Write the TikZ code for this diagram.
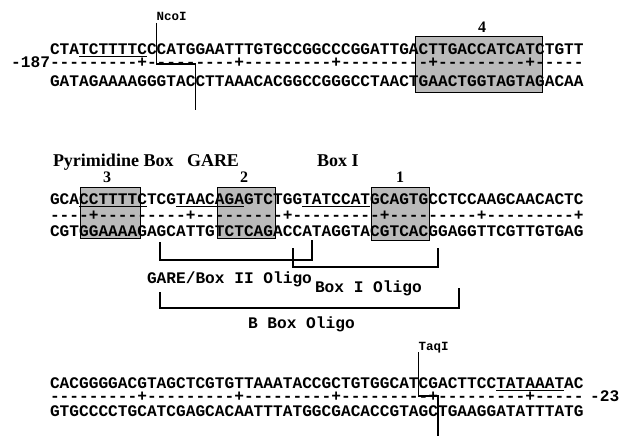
\documentclass[tikz,border=0pt]{standalone}
\usepackage{fontspec}
\setmainfont{Liberation Serif}
\setmonofont{Liberation Mono}
\usetikzlibrary{positioning}
\tikzstyle{seq}   = [inner sep=0pt, outer sep=0pt, anchor=base west,
                     font=\fontsize{16.17}{16}\selectfont\ttfamily\bfseries]
\tikzstyle{site}  = [inner sep=0pt, outer sep=0pt, anchor=base west,
                     font=\fontsize{12.5}{12}\selectfont\ttfamily\bfseries]
\tikzstyle{lbl}   = [inner sep=0pt, outer sep=0pt, anchor=base west,
                     font=\fontsize{18}{18}\selectfont\bfseries]
\tikzstyle{num}   = [inner sep=0pt, outer sep=0pt, anchor=base,
                     font=\fontsize{16}{16}\selectfont\bfseries]
\tikzstyle{motif} = [draw=black, line width=1pt, fill=black!27]
\tikzstyle{cut}   = [line width=1.2pt]
\tikzstyle{brk}   = [line width=1.1pt]
\tikzstyle{ulin}  = [line width=1pt]
\newcommand{\cw}{9.7}  % width of one base
\newcommand{\xo}{50}   % left edge of the strands

\begin{document}
\begin{tikzpicture}[x=1pt, y=-1pt]
  \useasboundingbox (0,0) rectangle (632,436);

  % shaded boxes
  \draw[motif] (415,37) rectangle (542,92);
  \draw[motif] (80,187) rectangle (140,238);
  \draw[motif] (217,187) rectangle (275,238);
  \draw[motif] (371,187) rectangle (429,240);

  % first block
  \node[seq] (top1) at (\xo,54.5) {CTATCTTTTCCCATGGAATTTGTGCCGGCCCGGATTGACTTGACCATCATCTGTT};
  \node[seq] (mid1) at (\xo,68) {---------+---------+---------+---------+---------+-----};
  \node[seq] (bot1) at (\xo,86.5) {GATAGAAAAGGGTACCTTAAACACGGCCGGGCCTAACTGAACTGGTAGTAGACAA};
  \node[seq, left=0pt of mid1.base west, anchor=base east] (pos1) {-187};
  \node[site] (ncoi) at ({\xo+11*\cw},21) {NcoI};
  \node[num] (m4) at (482,33) {4};
  \draw[ulin] ({\xo+3*\cw},57) -- ({\xo+10*\cw},57);

  \coordinate (ncoiB) at ({\xo+15*\cw},64);
  \coordinate (ncoiC) at ({\xo+15*\cw},110);
  \draw[cut] ([yshift=-2pt]ncoi.base west) |- (ncoiB) -- (ncoiC);

  % second block
  \node[lbl] (pyr) at (53,166.5) {Pyrimidine Box};
  \node[lbl] (gare) at (187,166.5) {GARE};
  \node[lbl] (boxi) at (317,166.5) {Box I};
  \node[num] (m3) at (107,182.5) {3};
  \node[num] (m2) at (244,182.5) {2};
  \node[num] (m1) at (400,182.5) {1};

  \node[seq] (top2) at (\xo,204) {GCACCTTTTCTCGTAACAGAGTCTGGTATCCATGCAGTGCCTCCAAGCAACACTC};
  \node[seq] (mid2) at (\xo,220) {----+---------+---------+---------+---------+---------+};
  \node[seq] (bot2) at (\xo,236) {CGTGGAAAAGAGCATTGTCTCAGACCATAGGTACGTCACGGAGGTTCGTTGTGAG};
  \draw[ulin] ({\xo+3*\cw},206.5) -- ({\xo+10*\cw},206.5);
  \draw[ulin] ({\xo+13*\cw},206.5) -- ({\xo+20*\cw},206.5);
  \draw[ulin] ({\xo+26*\cw},206.5) -- ({\xo+33*\cw},206.5);

  % oligos
  \draw[brk] (160,242) -- (160,260) -- (312,260) -- (312,240);
  \draw[brk] (293,248) -- (293,267) -- (438,267) -- (438,248);
  \draw[brk] (160,292) -- (160,308) -- (459,308) -- (459,288);
  \node[seq] (gareo) at (147,283) {GARE/Box II Oligo};
  \node[seq] (boxio) at (315,292) {Box I Oligo};
  \node[seq] (bboxo) at (248,328) {B Box Oligo};

  % third block
  \node[seq] (top3) at (\xo,388) {CACGGGGACGTAGCTCGTGTTAAATACCGCTGTGGCATCGACTTCCTATAAATAC};
  \node[seq] (mid3) at (\xo,401.5) {---------+---------+---------+---------+---------+-----};
  \node[seq] (bot3) at (\xo,416.5) {GTGCCCCTGCATCGAGCACAATTTATGGCGACACCGTAGCTGAAGGATATTTATG};
  \node[seq, right=6.5pt of mid3.base east, anchor=base west] (pos3) {-23};
  \node[site] (taqi) at ({\xo+38*\cw},350) {TaqI};
  \draw[ulin] ({\xo+46*\cw},390.5) -- ({\xo+53*\cw},390.5);

  \coordinate (taqiB) at ({\xo+40*\cw},396);
  \coordinate (taqiC) at ({\xo+40*\cw},436);
  \draw[cut] ([yshift=-2pt]taqi.base west) |- (taqiB) -- (taqiC);
\end{tikzpicture}
\end{document}
